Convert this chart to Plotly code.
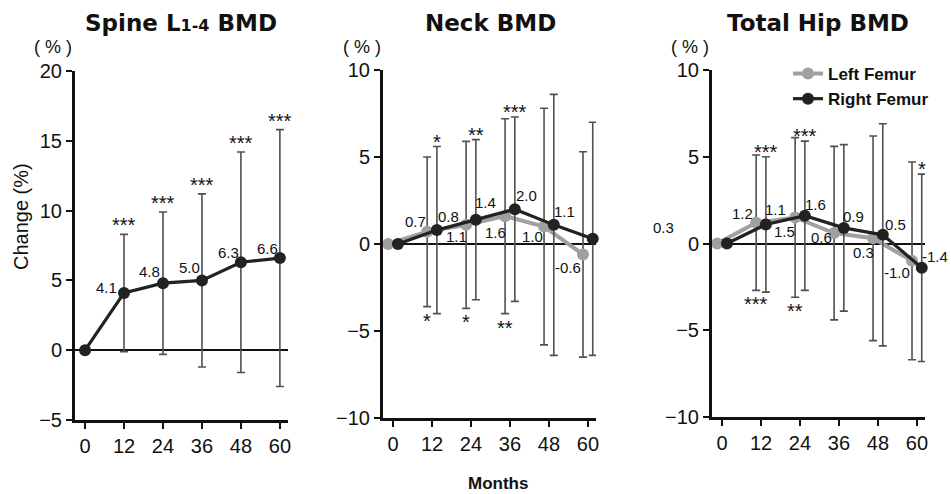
import plotly.graph_objects as go

months = [0, 12, 24, 36, 48, 60]
month_labels = ["0", "12", "24", "36", "48", "60"]

spine_mean = [0, 4.1, 4.8, 5.0, 6.3, 6.6]
spine_sd = [0, 4.2, 5.1, 6.2, 7.9, 9.2]
spine_sig = ["", "***", "***", "***", "***", "***"]

neck_left_mean = [0, 0.7, 1.1, 1.6, 1.0, -0.6]
neck_left_sd = [0, 4.3, 4.8, 5.6, 6.8, 5.9]
neck_right_mean = [0, 0.8, 1.4, 2.0, 1.1, 0.3]
neck_right_sd = [0, 4.8, 4.6, 5.3, 7.5, 6.7]
neck_left_sig = ["", "*", "*", "**", "", ""]
neck_right_sig = ["", "*", "**", "***", "", ""]

hip_left_mean = [0, 1.2, 1.5, 0.6, 0.3, -1.0]
hip_left_sd = [0, 3.9, 4.6, 5.0, 5.9, 5.7]
hip_right_mean = [0, 1.1, 1.6, 0.9, 0.5, -1.4]
hip_right_sd = [0, 3.9, 4.3, 4.8, 6.4, 5.4]
hip_left_sig = ["", "***", "**", "", "", ""]
hip_right_sig = ["", "***", "***", "", "", "*"]

W, H = 951, 494
def px(x): return x / W
def py(y): return 1 - y / H

BLACK = "#222222"
GRAY = "#a0a0a0"
ERR = "#505050"
FONT = "Liberation Sans, Arial, sans-serif"
TFONT = "DejaVu Sans, Liberation Sans, sans-serif"
OFF = 1.5

fig = go.Figure()

def add_series(x, mean, sd, color, width, xa, ya, name, showlegend):
    fig.add_trace(go.Scatter(
        x=x, y=mean, mode="lines+markers", name=name, showlegend=showlegend,
        xaxis=xa, yaxis=ya,
        line=dict(color=color, width=width),
        marker=dict(color=color, size=12),
        error_y=dict(type="data", array=sd, visible=True, color=ERR, thickness=1.6, width=4),
        cliponaxis=False,
    ))

left_x = [m - OFF for m in months]
right_x = [m + OFF for m in months]

add_series(months, spine_mean, spine_sd, BLACK, 3.2, "x", "y", "Spine", False)
add_series(left_x, neck_left_mean, neck_left_sd, GRAY, 4, "x2", "y2", "Left Femur", False)
add_series(right_x, neck_right_mean, neck_right_sd, BLACK, 3.2, "x2", "y2", "Right Femur", False)
add_series(left_x, hip_left_mean, hip_left_sd, GRAY, 4, "x3", "y3", "Left Femur", True)
add_series(right_x, hip_right_mean, hip_right_sd, BLACK, 3.2, "x3", "y3", "Right Femur", True)

annotations = []

def value_labels(x, mean, offsets, xa, ya):
    for xi, v, off in zip(x, mean, offsets):
        if off is None:
            continue
        annotations.append(dict(
            x=xi, y=v, xref=xa, yref=ya, text=f"{v:.1f}", showarrow=False,
            xshift=off[0], yshift=-off[1], font=dict(family=FONT, size=15, color="#111")))

def sig_labels(x, mean, sd, sig, xa, ya, upper, shift):
    for xi, v, s, t in zip(x, mean, sd, sig):
        if not t:
            continue
        yv = v + s if upper else v - s
        annotations.append(dict(
            x=xi, y=yv, xref=xa, yref=ya, text=t, showarrow=False,
            yanchor="middle", yshift=shift,
            font=dict(family=FONT, size=20, color="#111")))

value_labels(months, spine_mean,
             [None, (-18, -5), (-13, -12), (-12, -13), (-12, -10), (-12, -10)], "x", "y")
value_labels(left_x, neck_left_mean,
             [None, (-12, -10), (-10, 12), (-10, 16), (-12, 10), (-15, 13)], "x2", "y2")
value_labels(right_x, neck_right_mean,
             [None, (12, -14), (10, -17), (12, -14), (11, -13), (71, -11)], "x2", "y2")
value_labels(left_x, hip_left_mean,
             [None, (-14, -9), (-11, 14), (-13, 4), (-10, 14), (-15, 12)], "x3", "y3")
value_labels(right_x, hip_right_mean,
             [None, (10, -15), (11, -11), (10, -11), (13, -10), (13, -11)], "x3", "y3")

sig_labels(months, spine_mean, spine_sd, spine_sig, "x", "y", True, 9)
sig_labels(right_x, neck_right_mean, neck_right_sd, neck_right_sig, "x2", "y2", True, 5)
sig_labels(left_x, neck_left_mean, neck_left_sd, neck_left_sig, "x2", "y2", False, -14)
sig_labels(right_x, hip_right_mean, hip_right_sd, hip_right_sig, "x3", "y3", True, 5)
sig_labels(left_x, hip_left_mean, hip_left_sd, hip_left_sig, "x3", "y3", False, -14)

# titles and axis texts
titles = [
    ("Spine L<span style='font-size:16px'>1-4</span> BMD", 181),
    ("Neck BMD", 490),
    ("Total Hip BMD", 818),
]
for t, cx in titles:
    annotations.append(dict(x=px(cx), y=py(23), xref="paper", yref="paper", text=f"<b>{t}</b>",
                            showarrow=False, xanchor="center", yanchor="middle",
                            font=dict(family=TFONT, size=23, color="#111")))
for cx in [53, 362, 690]:
    annotations.append(dict(x=px(cx), y=py(47), xref="paper", yref="paper", text="( % )",
                            showarrow=False, xanchor="center", yanchor="middle",
                            font=dict(family=FONT, size=18, color="#111")))
annotations.append(dict(x=px(21), y=py(217), xref="paper", yref="paper", text="Change (%)",
                        textangle=-90, showarrow=False, xanchor="center", yanchor="middle",
                        font=dict(family=FONT, size=20, color="#111")))
annotations.append(dict(x=px(498), y=py(483), xref="paper", yref="paper", text="<b>Months</b>",
                        showarrow=False, xanchor="center", yanchor="middle",
                        font=dict(family=FONT, size=17, color="#111")))

def xaxis(left, right):
    return dict(domain=[px(left), px(right)], range=[-3.1, 62.5],
                tickvals=months, ticktext=month_labels, automargin=False,
                showline=True, linewidth=3, linecolor="#111", mirror=False,
                ticks="outside", ticklen=6, tickwidth=2, tickcolor="#111",
                showgrid=False, zeroline=False, fixedrange=True,
                tickfont=dict(family=FONT, size=20, color="#111"))

def yaxis(top, bottom, lo, hi, xa):
    return dict(domain=[py(bottom), py(top)], range=[lo, hi], dtick=5, anchor=xa,
                automargin=False, fixedrange=True,
                showline=True, linewidth=3, linecolor="#111",
                ticks="outside", ticklen=6, tickwidth=2, tickcolor="#111",
                showgrid=False, zeroline=True, zerolinecolor="#111", zerolinewidth=1.5,
                tickfont=dict(family=FONT, size=20, color="#111"))

fig.update_layout(
    width=W, height=H, autosize=False,
    margin=dict(l=0, r=0, t=0, b=0, pad=0, autoexpand=False),
    paper_bgcolor="white", plot_bgcolor="white",
    xaxis=dict(xaxis(75, 288), anchor="y"),
    yaxis=yaxis(71, 420, -5, 20, "x"),
    xaxis2=dict(xaxis(383, 596), anchor="y2"),
    yaxis2=yaxis(70, 418, -10, 10, "x2"),
    xaxis3=dict(xaxis(712, 925), anchor="y3"),
    yaxis3=yaxis(70, 417, -10, 10, "x3"),
    annotations=annotations,
    showlegend=True,
    legend=dict(x=px(788), y=py(56), xanchor="left", yanchor="top",
                bgcolor="rgba(0,0,0,0)",
                font=dict(family=FONT, size=17, color="#111", weight="bold"),
                tracegroupgap=0),
)

fig.write_html("out.html", config={"displayModeBar": False},
               post_script="document.body.style.margin='0';")
